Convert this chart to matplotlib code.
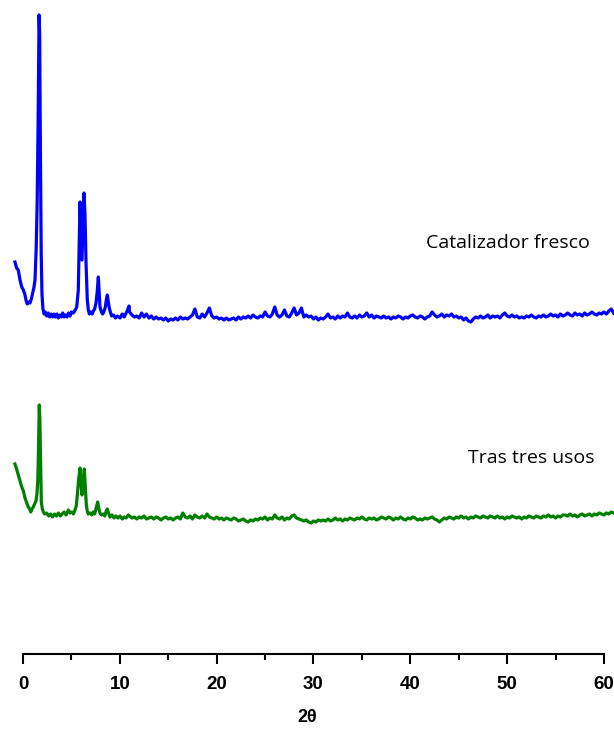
import numpy as np
import matplotlib
matplotlib.use("Agg")
import matplotlib.pyplot as plt
from matplotlib.ticker import MultipleLocator

# --- fresh catalyst (blue), low-angle region read point by point ---
fresh_lo_2theta = [-0.83, -0.66, -0.49, -0.31, -0.13, 0.04, 0.21, 0.33, 0.44, 0.58,
                   0.72, 0.86, 1.00, 1.12, 1.24, 1.36, 1.46, 1.56, 1.66, 1.72,
                   1.80, 1.88, 1.96, 2.06, 2.18, 2.30, 2.45, 2.60, 2.75, 2.90,
                   3.05, 3.20, 3.35, 3.50, 3.65, 3.80, 3.95, 4.10, 4.25, 4.40,
                   4.55, 4.70, 4.85, 5.00, 5.19, 5.40, 5.55, 5.71, 5.80, 5.89,
                   5.98, 6.09, 6.20, 6.30, 6.40, 6.51, 6.64, 6.75, 6.85, 7.00,
                   7.15, 7.26, 7.40, 7.54, 7.66, 7.78, 7.88, 7.95, 8.10, 8.23,
                   8.38, 8.50, 8.62, 8.71, 8.81, 8.91, 9.05, 9.16, 9.35, 9.55,
                   9.75, 10.02, 10.25, 10.45, 10.65, 10.80, 10.95]
fresh_lo_counts = [192, 186, 184, 174, 167, 164, 159, 153, 150, 152,
                   151, 155, 161, 166, 174, 205, 250, 330, 439, 420,
                   300, 200, 160, 145, 140, 142, 138, 141, 137, 140,
                   137, 140, 137, 140, 136, 139, 137, 141, 137, 139,
                   137, 141, 138, 142, 141, 144, 147, 164, 210, 252,
                   225, 194, 230, 261, 240, 191, 154, 144, 140, 142,
                   140, 143, 145, 151, 162, 177, 160, 147, 142, 140,
                   143, 147, 155, 159, 152, 146, 141, 138, 139, 136,
                   138, 136, 140, 137, 141, 144, 148]

# --- fresh catalyst, 11-61 deg scan (step 0.25 deg) ---
fresh_hi_counts = [
    142, 139, 137, 138, 136, 141, 137, 140, 136, 138, 135, 137, 135, 136, 134, 136, 133, 135, 134, 136,
    134, 137, 135, 136, 135, 137, 139, 145, 137, 136, 140, 137, 141, 146, 138, 136, 137, 135, 136, 134,
    136, 134, 135, 136, 134, 137, 135, 137, 136, 138, 136, 139, 137, 136, 138, 137, 142, 138, 137, 140,
    147, 139, 137, 139, 144, 138, 137, 141, 146, 139, 141, 146, 137, 139, 137, 138, 135, 137, 134, 136,
    135, 137, 140, 136, 137, 135, 138, 136, 138, 137, 141, 137, 136, 138, 136, 139, 137, 138, 141, 137,
    139, 136, 138, 137, 136, 138, 136, 137, 135, 137, 136, 138, 137, 135, 137, 136, 138, 139, 137, 136,
    138, 137, 135, 137, 138, 142, 139, 137, 138, 140, 137, 139, 138, 140, 137, 138, 136, 137, 134, 136,
    133, 132, 135, 137, 136, 138, 136, 137, 139, 136, 138, 137, 138, 136, 139, 141, 138, 137, 139, 137,
    138, 136, 137, 136, 138, 137, 139, 137, 136, 138, 137, 139, 137, 138, 140, 138, 139, 137, 140, 138,
    139, 141, 139, 138, 141, 139, 140, 138, 141, 139, 140, 142, 140, 139, 141, 140, 142, 140, 143, 145,
    141]

# --- after three uses (green), low-angle region ---
used_lo_2theta = [-0.83, -0.66, -0.49, -0.31, -0.13, 0.04, 0.21, 0.38, 0.55, 0.68,
                  0.80, 0.93, 1.06, 1.20, 1.34, 1.44, 1.52, 1.58, 1.62, 1.68,
                  1.74, 1.79, 1.89, 2.00, 2.10, 2.25, 2.45, 2.65, 2.85, 3.05,
                  3.25, 3.45, 3.65, 3.85, 4.05, 4.25, 4.45, 4.68, 4.85, 5.03,
                  5.20, 5.37, 5.50, 5.61, 5.75, 5.89, 5.98, 6.09, 6.20, 6.33,
                  6.43, 6.54, 6.64, 6.74, 6.95, 7.10, 7.26, 7.40, 7.51, 7.61,
                  7.71, 7.82, 7.95, 8.10, 8.29, 8.45, 8.60, 8.71, 8.83, 8.98,
                  9.20, 9.40, 9.60, 9.80, 10.02, 10.25, 10.45, 10.65, 10.87]
used_lo_counts = [190, 185, 179, 173, 167, 163, 156, 151, 147, 145,
                  142, 145, 147, 150, 153, 160, 172, 195, 219, 249,
                  235, 209, 152, 145, 142, 140, 141, 138, 140, 137,
                  140, 138, 141, 138, 140, 142, 139, 144, 141, 142,
                  140, 144, 148, 159, 175, 186, 172, 159, 172, 185,
                  168, 149, 143, 140, 141, 139, 142, 140, 144, 148,
                  152, 146, 141, 139, 140, 138, 143, 145, 141, 137,
                  139, 136, 138, 136, 138, 135, 137, 136, 139]

# --- after three uses, 11-61 deg scan (step 0.25 deg) ---
used_hi_counts = [
    138, 136, 137, 135, 137, 136, 138, 135, 136, 137, 135, 137, 136, 134, 136, 137, 135, 136, 134, 136,
    137, 135, 141, 137, 136, 138, 135, 139, 137, 136, 138, 136, 140, 137, 136, 135, 137, 135, 136, 134,
    136, 135, 134, 136, 135, 133, 134, 135, 133, 132, 134, 133, 135, 134, 136, 135, 137, 134, 136, 135,
    139, 136, 135, 137, 134, 136, 135, 138, 139, 136, 135, 134, 133, 134, 132, 131, 133, 132, 134, 133,
    134, 133, 135, 133, 134, 136, 134, 135, 133, 135, 134, 136, 135, 134, 136, 135, 137, 135, 134, 136,
    135, 136, 134, 135, 137, 136, 135, 137, 136, 134, 136, 135, 137, 135, 134, 136, 135, 137, 136, 134,
    135, 134, 136, 135, 136, 137, 135, 134, 132, 134, 136, 135, 137, 136, 135, 137, 136, 138, 136, 137,
    135, 137, 136, 138, 137, 136, 138, 137, 136, 138, 137, 136, 138, 136, 137, 135, 137, 136, 138, 137,
    136, 137, 135, 137, 136, 138, 137, 136, 138, 137, 136, 138, 137, 139, 137, 138, 136, 138, 137, 139,
    139, 138, 140, 138, 139, 137, 139, 140, 138, 139, 140, 138, 140, 139, 141, 140, 139, 141, 140, 142,
    141]

scan_start, scan_step = 11.0, 0.25
fresh_offset = 200  # vertical shift of the fresh pattern

labels = ["Catalizador fresco", "Tras tres usos"]
tick_values = [0, 10, 20, 30, 40, 50, 60]

hi_2theta = scan_start + scan_step * np.arange(len(fresh_hi_counts))
fresh_x = np.concatenate([fresh_lo_2theta, hi_2theta])
fresh_y = np.concatenate([fresh_lo_counts, fresh_hi_counts]) + fresh_offset
used_x = np.concatenate([used_lo_2theta, scan_start + scan_step * np.arange(len(used_hi_counts))])
used_y = np.concatenate([used_lo_counts, used_hi_counts])

fig = plt.figure(figsize=(6.14, 7.33), dpi=100)
ax = fig.add_axes([0, 79 / 733, 1, 644 / 733])

ax.plot(fresh_x, fresh_y, color="#0000ff", lw=2.3)
ax.plot(used_x, used_y, color="#008000", lw=2.3)

ax.text(41.6, 406, labels[0], fontsize=14, family="Open Sans", va="baseline")
ax.text(45.96, 191, labels[1], fontsize=14, family="Open Sans", va="baseline")

ax.set_xlim(-23 / 9.683, 591 / 9.683)
ax.set_ylim(0, 644)

for s in ["left", "right", "top"]:
    ax.spines[s].set_visible(False)
ax.spines["bottom"].set_bounds(0, 60)
ax.spines["bottom"].set_linewidth(1.5)

ax.set_yticks([])
ax.set_xticks(tick_values)
ax.xaxis.set_minor_locator(MultipleLocator(5))
ax.tick_params(axis="x", which="major", direction="out", length=7.5, width=1.5, pad=8)
ax.tick_params(axis="x", which="minor", direction="out", length=4, width=1.5)
for lbl in ax.get_xticklabels():
    lbl.set_fontfamily("Liberation Sans")
    lbl.set_fontweight("bold")
    lbl.set_fontsize(13.5)

ax.set_xlabel("2θ", fontsize=13, fontweight="bold", family="Liberation Sans", labelpad=12)

fig.savefig("out.png", dpi=100)
